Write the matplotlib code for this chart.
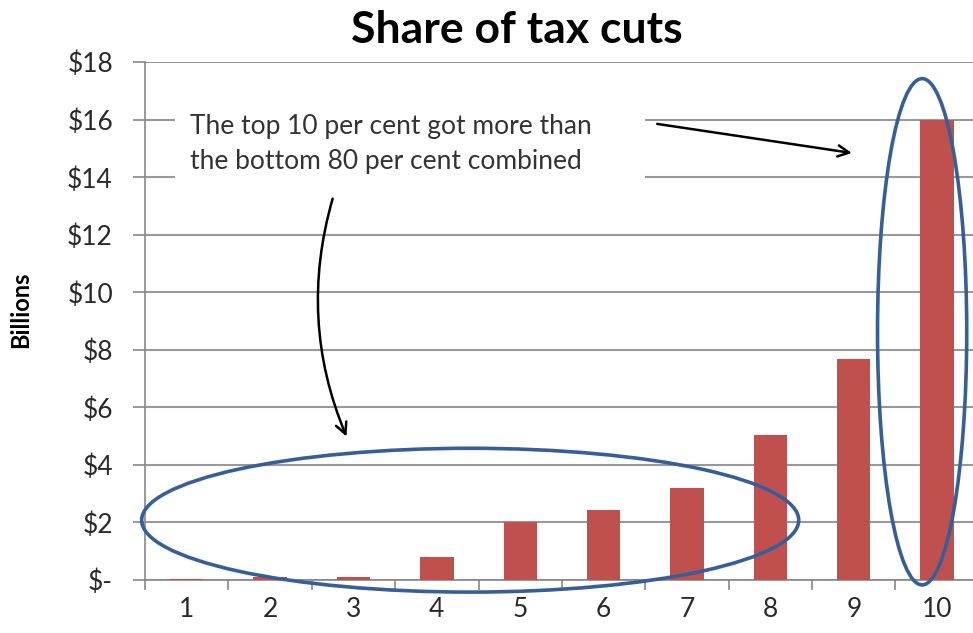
import matplotlib
matplotlib.use("Agg")
import matplotlib.pyplot as plt
from matplotlib.patches import Ellipse, Rectangle
import numpy as np

# deciles and tax cut share (billions)
deciles = ["1", "2", "3", "4", "5", "6", "7", "8", "9", "10"]
cuts = [0.05, 0.1, 0.12, 0.8, 2.0, 2.45, 3.2, 5.05, 7.7, 16.0]
yticks = [0, 2, 4, 6, 8, 10, 12, 14, 16, 18]
ylabels = ["$-", "$2", "$4", "$6", "$8", "$10", "$12", "$14", "$16", "$18"]

plt.rcParams["font.family"] = ["Lato", "DejaVu Sans"]

fig = plt.figure(figsize=(9.73, 6.33), dpi=100)
ax = fig.add_axes([0.149, 0.0837, 0.857, 0.818])

x = np.arange(1, len(deciles) + 1)
ax.bar(x, cuts, width=0.4, color="#C0504D", zorder=3)

ax.set_xlim(0.5, 10.5)
ax.set_ylim(0, 18)
ax.set_yticks(yticks)
ax.set_yticklabels(ylabels, fontsize=19, color="#2a2a2a")
ax.set_xticks(x)
ax.set_xticklabels(deciles, fontsize=19, color="#2a2a2a")
ax.set_xticks(np.arange(0.5, 11, 1), minor=True)
ax.tick_params(axis="x", which="major", length=0, pad=12)
ax.tick_params(axis="x", which="minor", length=7, color="#888888", width=1.2)
ax.tick_params(axis="y", length=9, color="#888888", width=1.2, pad=14)
ax.yaxis.grid(True, color="#999999", linewidth=1.5, zorder=0)
for s in ["top", "right"]:
    ax.spines[s].set_visible(False)
for s in ["left", "bottom"]:
    ax.spines[s].set_color("#888888")
    ax.spines[s].set_linewidth(1.2)

fig.text(0.021, 0.51, "Billions", fontsize=17, fontweight="bold",
         rotation=90, ha="center", va="center")
fig.text(0.531, 0.952, "Share of tax cuts", fontsize=32, fontweight="bold",
         ha="center", va="center")

# ellipses around the groups
ax.add_patch(Ellipse((4.40, 2.08), 7.88, 5.0, fill=False, edgecolor="#365F99",
                     linewidth=2.6, clip_on=False, zorder=4))
ax.add_patch(Ellipse((9.82, 8.63), 1.07, 17.6, fill=False, edgecolor="#365F99",
                     linewidth=2.6, clip_on=False, zorder=4))

# annotation box (white background hiding the gridlines)
ax.add_patch(Rectangle((0.86, 13.75), 5.64, 2.75, facecolor="white",
                       edgecolor="none", zorder=2))
ax.text(1.04, 15.17, "The top 10 per cent got more than\nthe bottom 80 per cent combined",
        fontsize=19, color="#333333", ha="left", va="center", linespacing=1.5,
        zorder=5)
ax.annotate("", xy=(9.01, 14.83), xytext=(6.61, 15.87),
            arrowprops=dict(arrowstyle="->,head_length=0.8,head_width=0.4",
                            color="black", linewidth=1.8), zorder=6)
ax.annotate("", xy=(2.93, 4.9), xytext=(2.76, 13.35),
            arrowprops=dict(arrowstyle="->,head_length=0.8,head_width=0.4",
                            color="black", linewidth=1.8,
                            connectionstyle="arc3,rad=0.18"), zorder=6)

fig.savefig("out.png", dpi=100)
